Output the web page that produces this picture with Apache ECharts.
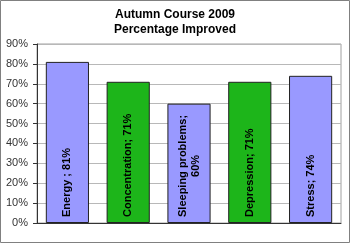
<!DOCTYPE html>
<html><head><meta charset="utf-8">
<script src="https://cdn.jsdelivr.net/npm/echarts@6/dist/echarts.min.js"></script>
<style>html,body{margin:0;padding:0;background:#fff}#c{width:350px;height:243px}</style>
</head><body><div id="c"></div>
<script>
const categories = ['Energy', 'Concentration', 'Sleeping problems', 'Depression', 'Stress'];
const values = [81, 71, 60, 71, 74];
const barLabels = ['Energy ; 81%', 'Concentration; 71%', 'Sleeping problems;\n60%', 'Depression; 71%', 'Stress; 74%'];
const barColors = ['#9999FF', '#1DB51A', '#9999FF', '#1DB51A', '#9999FF'];
const yTicks = [0, 10, 20, 30, 40, 50, 60, 70, 80, 90];

const chart = echarts.init(document.getElementById('c'), null, {renderer: 'canvas'});
const font = '"Liberation Sans", Arial, sans-serif';
const labStyle = {fontFamily: font, fontSize: 11, fontWeight: 'bold', color: '#000', lineHeight: 13, align: 'center'};
chart.setOption({
  animation: false,
  title: {
    text: 'Autumn Course 2009\nPercentage Improved',
    left: 'center', top: 2,
    textStyle: {fontFamily: font, fontSize: 12, fontWeight: 'bold', color: '#000', lineHeight: 15}
  },
  graphic: [{type: 'rect', shape: {x: 0.5, y: 0.5, width: 349, height: 242}, style: {fill: 'none', stroke: '#808080', lineWidth: 1}, silent: true}],
  grid: {left: 37, right: 9, top: 44, bottom: 20, show: true, borderColor: '#a0a0a0', borderWidth: 1},
  xAxis: {
    type: 'category', data: categories,
    axisLine: {lineStyle: {color: '#333', width: 1}},
    axisTick: {show: false}, axisLabel: {show: false}
  },
  yAxis: {
    type: 'value', min: 0, max: 90, interval: 10,
    axisLine: {show: true, lineStyle: {color: '#333'}},
    axisTick: {show: true, length: 4, lineStyle: {color: '#333'}},
    splitLine: {lineStyle: {color: '#b8b8b8', width: 1}},
    axisLabel: {fontFamily: font, fontSize: 11, color: '#333', margin: 9,
      formatter: v => yTicks.includes(v) ? v + '%' : ''}
  },
  series: [{
    type: 'bar',
    barCategoryGap: '29%',
    data: values.map((v, i) => ({value: v, itemStyle: {color: barColors[i]},
      label: {formatter: barLabels[i].split('\n').map(s => '{c|' + s + '}').join('\n')}})),
    itemStyle: {borderColor: '#222', borderWidth: 1},
    label: {
      show: true, position: 'insideBottom', rotate: 90, align: 'left', verticalAlign: 'middle',
      distance: 6, fontFamily: font, fontSize: 11, fontWeight: 'bold', color: '#000', lineHeight: 13,
      rich: {c: labStyle}
    }
  }]
});
</script></body></html>
